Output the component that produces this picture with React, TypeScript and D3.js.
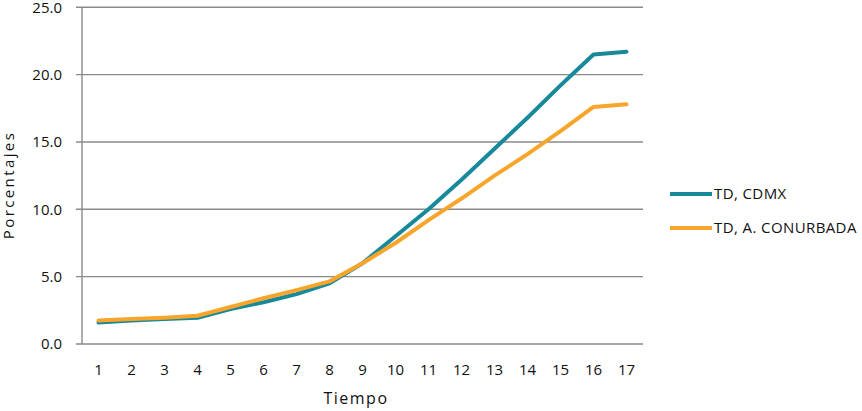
import React from "react";
import * as d3 from "d3";

const categories = ["1","2","3","4","5","6","7","8","9","10","11","12","13","14","15","16","17"];
const cdmx = [1.6, 1.75, 1.85, 1.95, 2.6, 3.1, 3.7, 4.5, 6.0, 8.0, 10.0, 12.2, 14.5, 16.8, 19.2, 21.5, 21.7];
const conurbada = [1.75, 1.85, 1.95, 2.1, 2.75, 3.4, 4.0, 4.65, 6.0, 7.5, 9.2, 10.8, 12.5, 14.1, 15.8, 17.6, 17.8];
const yTicks = [0, 5, 10, 15, 20, 25];
const seriesNames = ["TD, CDMX", "TD, A. CONURBADA"];
const colors = ["#17899B", "#F7A52B"];

const W = 862, H = 411;
const left = 82, right = 643, top = 7.3, bottom = 344;
const font = "'Open Sans', 'Liberation Sans', sans-serif";

export default function App() {
  const x = d3.scaleBand().domain(categories).range([left, right]);
  const y = d3.scaleLinear().domain([0, 25]).range([bottom, top]);
  const line = d3.line<number>()
    .x((_, i) => (x(categories[i]) as number) + x.bandwidth() / 2)
    .y((d) => y(d));
  const series = [cdmx, conurbada];
  return (
    <svg width={W} height={H} style={{ position: "absolute", left: 0, top: 0 }}>
      <rect width={W} height={H} fill="#fff" />
      {yTicks.map((t) => (
        <g key={t}>
          <line x1={left - 6} x2={right} y1={y(t)} y2={y(t)} stroke="#8a8a8a" strokeWidth={1.4} />
          <text x={62} y={y(t) + (t === 25 ? 0.8 : 0)} dy="0.35em" textAnchor="end" fontFamily={font} fontSize={15} fill="#111">
            {t.toFixed(1)}
          </text>
        </g>
      ))}
      <line x1={left} x2={left} y1={top} y2={bottom} stroke="#8a8a8a" strokeWidth={1.4} />
      {categories.map((c) => (
        <text key={c} x={(x(c) as number) + x.bandwidth() / 2} y={375} textAnchor="middle" fontFamily={font} fontSize={15} fill="#111">
          {c}
        </text>
      ))}
      {series.map((s, i) => (
        <path key={i} d={line(s) as string} fill="none" stroke={colors[i]} strokeWidth={4} strokeLinejoin="round" strokeLinecap="round" />
      ))}
      {seriesNames.map((n, i) => (
        <g key={n}>
          <line x1={670} x2={712} y1={194 + i * 34} y2={194 + i * 34} stroke={colors[i]} strokeWidth={4} />
          <text x={714} y={194 + i * 34} dy="0.35em" fontFamily={font} fontSize={15} letterSpacing={0.4} fill="#111">{n}</text>
        </g>
      ))}
      <text transform="translate(14,185) rotate(-90)" textAnchor="middle" fontFamily={font} fontSize={15} letterSpacing={2.4} fill="#111">
        Porcentajes
      </text>
      <text x={356} y={404} textAnchor="middle" fontFamily={font} fontSize={16} letterSpacing={1.5} fill="#111">
        Tiempo
      </text>
    </svg>
  );
}
